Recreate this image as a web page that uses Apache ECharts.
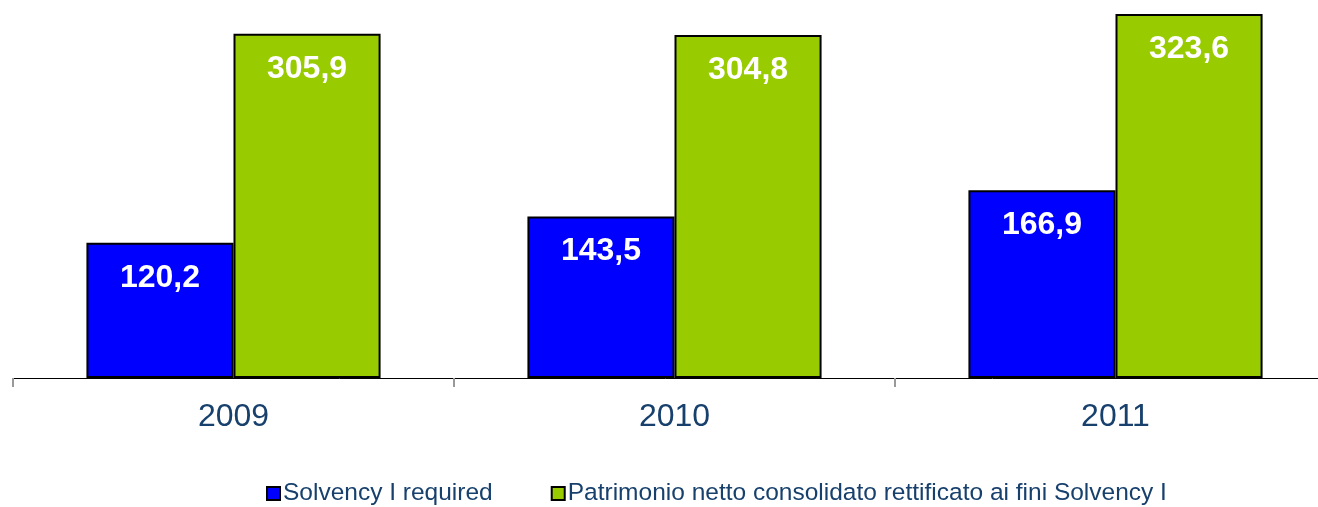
<!DOCTYPE html>
<html><head><meta charset="utf-8">
<script src="https://cdn.jsdelivr.net/npm/echarts@6/dist/echarts.min.js"></script>
<style>html,body{margin:0;padding:0;background:#fff}#c{width:1318px;height:507px}</style>
</head><body><div id="c"></div>
<script>
const categories = ['2009', '2010', '2011'];
const seriesNames = ['Solvency I required', 'Patrimonio netto consolidato rettificato ai fini Solvency I'];
const solvencyRequired = [120.2, 143.5, 166.9];
const patrimonioNetto = [305.9, 304.8, 323.6];

const chart = echarts.init(document.getElementById('c'));
const fmt = p => p.value.toFixed(1).replace('.', ',');
const labelCfg = {
  show: true, position: 'insideTop', distance: 19, color: '#fff',
  fontFamily: 'Liberation Sans, Arial, sans-serif', fontWeight: 'bold', fontSize: 32, formatter: fmt
};
chart.setOption({
  animation: false,
  grid: { left: 13, width: 1323, top: 0, bottom: 129, containLabel: false, outerBoundsMode: 'none' },
  xAxis: {
    type: 'category', data: categories,
    axisLine: { lineStyle: { color: '#000', width: 1 } },
    axisTick: { show: true, length: 9, lineStyle: { color: '#999', width: 2 } },
    axisLabel: { color: '#17406D', fontSize: 32, margin: 23, fontFamily: 'Liberation Sans, Arial, sans-serif' }
  },
  yAxis: { type: 'value', min: 0, max: 336, show: false, splitLine: { show: false } },
  legend: {
    top: 476, left: 261, itemWidth: 13, itemHeight: 13, itemGap: 58,
    textStyle: { color: '#17406D', fontSize: 24.5, fontFamily: 'Liberation Sans, Arial, sans-serif', padding: [0, 0, 0, -2] },
    data: seriesNames.map(n => ({ name: n, icon: 'rect', itemStyle: { borderColor: '#000', borderWidth: 2 } }))
  },
  series: [
    { name: seriesNames[0], type: 'bar', data: solvencyRequired, barGap: '0%', barCategoryGap: '33.3%',
      itemStyle: { color: '#0000FF', borderColor: '#000', borderWidth: 2 }, label: labelCfg },
    { name: seriesNames[1], type: 'bar', data: patrimonioNetto,
      itemStyle: { color: '#99CC00', borderColor: '#000', borderWidth: 2 }, label: labelCfg }
  ]
});
</script></body></html>
